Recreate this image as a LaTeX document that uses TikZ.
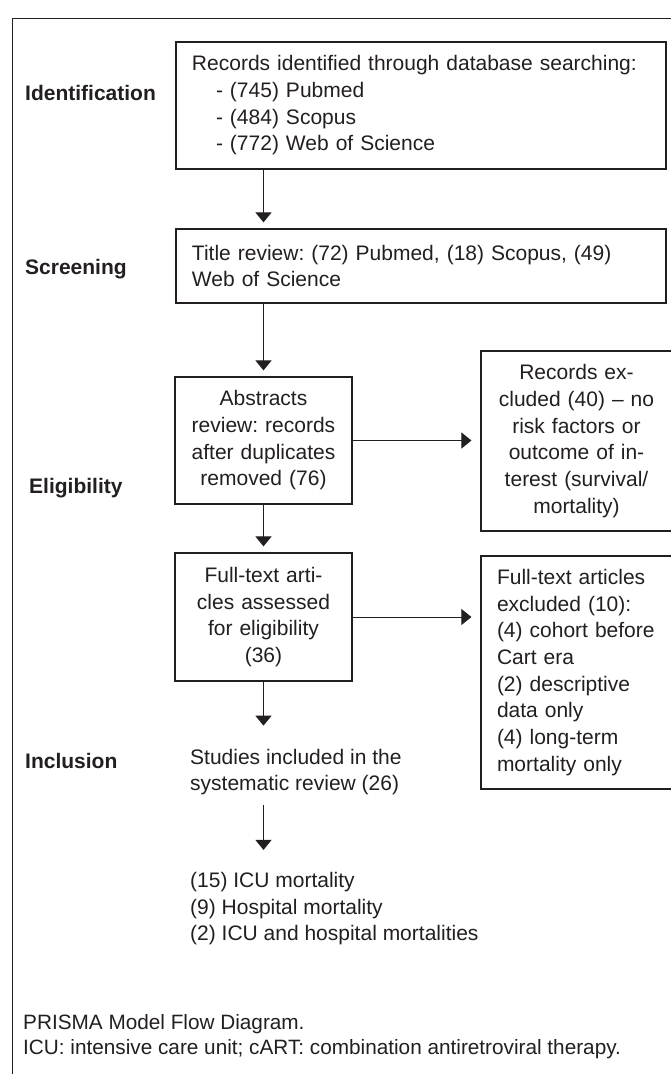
\documentclass[tikz,border=0pt]{standalone}
\usepackage{fontspec}
\setmainfont{Liberation Sans}
\usetikzlibrary{arrows.meta}
\definecolor{ink}{RGB}{35,31,32}
\newcommand\bodyfont{\fontsize{21bp}{26.7bp}\selectfont}
\newcommand\capfont{\fontsize{20.75bp}{25bp}\selectfont}
\frenchspacing
\begin{document}
\begin{tikzpicture}[x=1bp,y=-1bp,
  box/.style={draw=ink, line width=1.2bp, text=ink, font=\bodyfont, inner ysep=0bp},
  boxl/.style={box, align=left, inner xsep=16bp},
  boxc/.style={box, align=center, inner xsep=4bp},
  lab/.style={font=\bodyfont\bfseries, text=ink, inner sep=0bp, anchor=base west},
  txt/.style={font=\bodyfont, text=ink, inner sep=0bp, align=left, anchor=west},
  arr/.style={draw=ink, line width=1bp, -{Triangle[length=10bp,width=16bp]}}]
\useasboundingbox (0,0) rectangle (671,1074);
\fill[white] (0,0) rectangle (671,1074);
% frame
\draw[ink, line width=1bp] (12,1080) -- (12,18) -- (680,18);
% boxes
\node[boxl, text width=458bp, minimum height=127bp] (b1) at (421,105.5)
  {Records identified through database searching:\\
   \hspace*{24bp}- (745) Pubmed\\
   \hspace*{24bp}- (484) Scopus\\
   \hspace*{24bp}- (772) Web of Science};
\node[boxl, text width=458bp, minimum height=74bp] (b2) at (421,266)
  {Title review: (72) Pubmed, (18) Scopus, (49)\\Web of Science};
\node[boxc, text width=169bp, minimum height=127bp] (b3) at (263.5,440.5)
  {Abstracts\\review: records\\after duplicates\\removed (76)};
\node[boxc, text width=183bp, minimum height=180bp] (b4) at (576.5,441)
  {Records ex-\\cluded (40) -- no\\risk factors or\\outcome of in-\\terest (survival/\\mortality)};
\node[boxc, text width=169bp, minimum height=128bp] (b5) at (263.5,617)
  {Full-text arti-\\cles assessed\\for eligibility\\(36)};
\node[boxl, text width=159bp, minimum height=233bp] (b6) at (576.5,672.5)
  {Full-text articles\\excluded (10):\\(4) cohort before\\Cart era\\(2) descriptive\\data only\\(4) long-term\\mortality only};
\node[txt] (st) at (190,772) {Studies included in the\\systematic review (26)};
\node[txt] (res) at (190,908.6) {(15) ICU mortality\\(9) Hospital mortality\\(2) ICU and hospital mortalities};
% stage labels
\node[lab] (lid) at (25,100.5) {Identification};
\node[lab] (lsc) at (25,274.5) {Screening};
\node[lab] (lel) at (29,493.5) {Eligibility};
\node[lab] (lin) at (25,768.5) {Inclusion};
% caption
\node[txt, font=\capfont] (cap) at (23,1036.6)
  {PRISMA Model Flow Diagram.\\ICU: intensive care unit; cART: combination antiretroviral therapy.};
% arrows
\draw[arr, shorten >=6bp] (b3.north |- b1.south) -- (b3.north |- b2.north);
\draw[arr, shorten >=6bp] (b3.north |- b2.south) -- (b3.north);
\draw[arr, shorten >=6bp] (b3.south) -- (b5.north);
\draw[arr, shorten >=9bp] (b3.east) -- (b3.east -| b4.west);
\draw[arr, shorten >=9bp] (b5.east) -- (b5.east -| b6.west);
\draw[arr, shorten >=23bp] (b5.south) -- (b5.south |- st.north);
\draw[arr, shorten <=10bp, shorten >=22bp] (b5.south |- st.south) -- (b5.south |- res.north);
\end{tikzpicture}
\end{document}
